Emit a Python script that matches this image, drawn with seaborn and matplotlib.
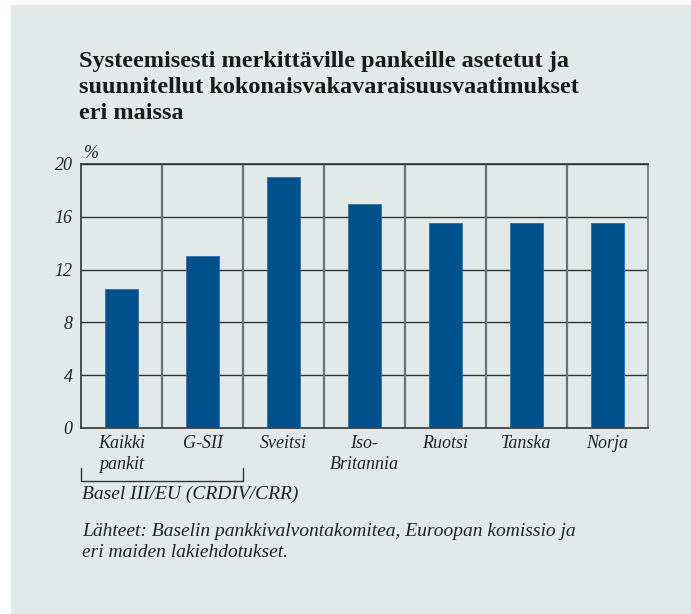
import matplotlib
matplotlib.use("Agg")
import matplotlib.pyplot as plt
import seaborn as sns
import pandas as pd
from matplotlib.patches import Rectangle
from matplotlib.lines import Line2D

categories = ["Kaikki\npankit", "G-SII", "Sveitsi", "Iso-\nBritannia", "Ruotsi", "Tanska", "Norja"]
values = [10.5, 13.0, 19.0, 17.0, 15.5, 15.5, 15.5]
yticks = [0, 4, 8, 12, 16, 20]

title = "Systeemisesti merkittäville pankeille asetetut ja\nsuunnitellut kokonaisvakavaraisuusvaatimukset\neri maissa"
bracket_label = "Basel III/EU (CRDIV/CRR)"
source = "Lähteet: Baselin pankkivalvontakomitea, Euroopan komissio ja\neri maiden lakiehdotukset."

df = pd.DataFrame({"cat": categories, "val": values})

sns.set_theme(style="white")
plt.rcParams['font.family'] = ['Liberation Serif', 'DejaVu Serif']

W, H = 691, 614
fig = plt.figure(figsize=(W / 100, H / 100), dpi=100)
fig.patch.set_facecolor("white")
bg = "#E1EAE9"
fig.patches.append(Rectangle((11 / W, 0), 1 - 11 / W, 1 - 5 / H, transform=fig.transFigure,
                             facecolor=bg, edgecolor="none", zorder=-10))

ax = fig.add_axes([81 / W, 1 - 428 / H, (648 - 81) / W, (428 - 164) / H])
ax.set_facecolor(bg)
sns.barplot(data=df, x="cat", y="val", color="#00508C", width=0.4, ax=ax,
            saturation=1, edgecolor="#2E6EA6", linewidth=0.6, zorder=3)
ax.set_ylim(0, 20)
ax.set_xlim(-0.5, len(categories) - 0.5)
ax.set_yticks(yticks)
ax.set_yticklabels([str(t) for t in yticks], fontstyle="italic", fontsize=13, color="#222222")
ax.set_xticks(range(len(categories)))
ax.set_xticklabels(categories, fontstyle="italic", fontsize=13, color="#222222", linespacing=1.35)
ax.tick_params(axis="x", length=0, pad=5)
ax.tick_params(axis="y", length=0, pad=6)
ax.set_xlabel("")
ax.set_ylabel("")
for t in yticks[1:]:
    ax.axhline(t, color="#333333", linewidth=1.0, zorder=1)
for b in range(1, len(categories)):
    ax.axvline(b - 0.5, color="#707070", linewidth=1.6, zorder=1)
for s in ["top", "bottom", "left", "right"]:
    ax.spines[s].set_visible(True)
    ax.spines[s].set_color("#333333")
    ax.spines[s].set_linewidth(1.2)
ax.spines["right"].set_color("#707070")

fig.text(84 / W, 1 - 154 / H, "%", fontsize=13, fontstyle="italic", color="#222222",
         ha="left", va="center")

fig.text(79 / W, 1 - 51 / H, title, fontsize=17.5, fontweight="bold", color="#1a1a1a",
         ha="left", va="top", linespacing=1.3)

# bracket
bx0, bx1 = 81 / W, 243 / W
by, byt = 1 - 481 / H, 1 - 468 / H
fig.lines.append(Line2D([bx0, bx0, bx1, bx1], [byt, by, by, byt], transform=fig.transFigure,
                        color="#333333", linewidth=1.0))
fig.text(82 / W, 1 - 494 / H, bracket_label, fontsize=14, fontstyle="italic",
         color="#222222", ha="left", va="center")
fig.text(82 / W, 1 - 523 / H, source, fontsize=14, fontstyle="italic",
         color="#222222", ha="left", va="top", linespacing=1.3)

fig.savefig("out.png", dpi=100, facecolor=fig.get_facecolor())
